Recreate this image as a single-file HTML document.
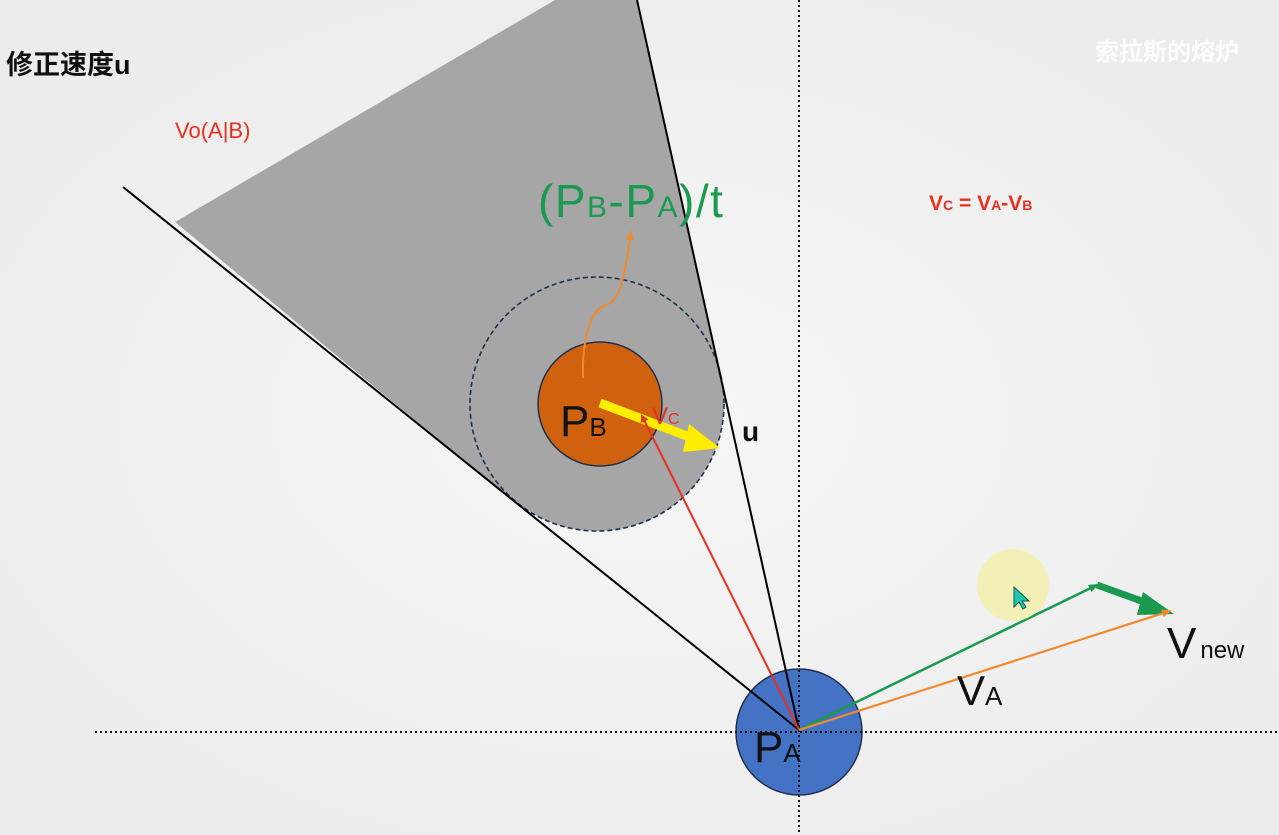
<!DOCTYPE html>
<html><head><meta charset="utf-8"><style>
html,body{margin:0;padding:0;background:#f1f1f1;}
svg{display:block;}
text{font-family:"Liberation Sans","Noto Sans CJK SC",sans-serif;}
</style></head><body>
<svg width="1279" height="835" viewBox="0 0 1279 835" xmlns="http://www.w3.org/2000/svg">
<defs>
<radialGradient id="bg" cx="0.5" cy="0.5" r="0.8"><stop offset="0" stop-color="#f6f6f6"/><stop offset="1" stop-color="#e9e9e9"/></radialGradient>
<marker id="ar" markerWidth="8" markerHeight="8" refX="6" refY="4" orient="auto" markerUnits="userSpaceOnUse"><path d="M0,0 L8,4 L0,8 z" fill="#e83020"/></marker>
<marker id="ao" markerWidth="10" markerHeight="8" refX="8" refY="4" orient="auto" markerUnits="userSpaceOnUse"><path d="M0,0 L10,4 L0,8 z" fill="#f08a30"/></marker>
<marker id="ag" markerWidth="10" markerHeight="8" refX="8" refY="4" orient="auto" markerUnits="userSpaceOnUse"><path d="M0,0 L10,4 L0,8 z" fill="#1a9a50"/></marker>
</defs>
<rect width="1279" height="835" fill="url(#bg)"/>
<polygon points="175,222 555,0 637,0 720,378 597,404 515,503" fill="#a6a6a6"/>
<circle cx="597" cy="404" r="127" fill="#a6a6a6" stroke="#1f3050" stroke-width="1.6" stroke-dasharray="5,3"/>
<circle cx="799" cy="732" r="63" fill="#4472c4" stroke="#1f3050" stroke-width="1.5"/>
<line x1="123" y1="187" x2="799" y2="730" stroke="#000" stroke-width="2"/>
<line x1="637" y1="0" x2="799" y2="730" stroke="#000" stroke-width="2"/>
<line x1="799" y1="0" x2="799" y2="835" stroke="#111" stroke-width="2" stroke-dasharray="2,3"/>
<line x1="95" y1="732" x2="1279" y2="732" stroke="#111" stroke-width="2" stroke-dasharray="2,3"/>
<circle cx="600" cy="404" r="62" fill="#d0620f" stroke="#1f3050" stroke-width="1.5"/>
<path d="M583,378 C582,340 590,310 606,305 C622,300 625,270 631,232" fill="none" stroke="#f08a30" stroke-width="2" marker-end="url(#ao)"/>
<text x="560" y="436" font-size="44" fill="#111">P<tspan font-size="26">B</tspan></text>
<line x1="600" y1="403" x2="700" y2="441" stroke="#ffee00" stroke-width="9"/>
<polygon points="689,424 720,448 683,452" fill="#ffee00"/>
<line x1="799" y1="730" x2="642" y2="416" stroke="#e83020" stroke-width="2" marker-end="url(#ar)"/>
<text x="652" y="424" font-size="24" fill="#e83020">V<tspan font-size="16">C</tspan></text>
<text x="754" y="762" font-size="44" fill="#111">P<tspan font-size="26">A</tspan></text>
<line x1="799" y1="730" x2="1097" y2="585" stroke="#1a9a50" stroke-width="2.5" marker-end="url(#ag)"/>
<line x1="1097" y1="585" x2="1150" y2="604" stroke="#1a9a50" stroke-width="7"/>
<polygon points="1143,592 1174,614 1137,615" fill="#1a9a50"/>
<line x1="799" y1="730" x2="1170" y2="611" stroke="#f08a30" stroke-width="2.2" marker-end="url(#ao)"/>
<circle cx="1013" cy="585" r="36" fill="#f3f0b0" opacity="0.9"/>
<path d="M1014,587 L1014,607 L1019,602 L1023,609 L1026,607 L1022,601 L1029,601 Z" fill="#20c8b0" stroke="#0a5a50" stroke-width="1"/>
<text x="957" y="705" font-size="42" fill="#111">V<tspan font-size="26">A</tspan></text>
<text x="1167" y="658" font-size="44" fill="#111">V<tspan font-size="24" dx="4">new</tspan></text>
<text x="742" y="441" font-size="28" font-weight="bold" fill="#111">u</text>
<text x="538" y="217" font-size="46" fill="#1a9a50" letter-spacing="1.5">(P<tspan font-size="30">B</tspan>-P<tspan font-size="30">A</tspan>)/t</text>
<text x="175" y="138" font-size="22" fill="#e83020">Vo(A|B)</text>
<text x="6" y="74" font-size="27" font-weight="bold" fill="#111">修正速度u</text>
<text x="929" y="210" font-size="21" font-weight="bold" fill="#e83020">V<tspan font-size="14">C</tspan> = V<tspan font-size="14">A</tspan>-V<tspan font-size="14">B</tspan></text>
<text x="1095" y="60" font-size="24" font-weight="bold" fill="#ffffff" opacity="0.85">索拉斯的熔炉</text>
</svg>
</body></html>
